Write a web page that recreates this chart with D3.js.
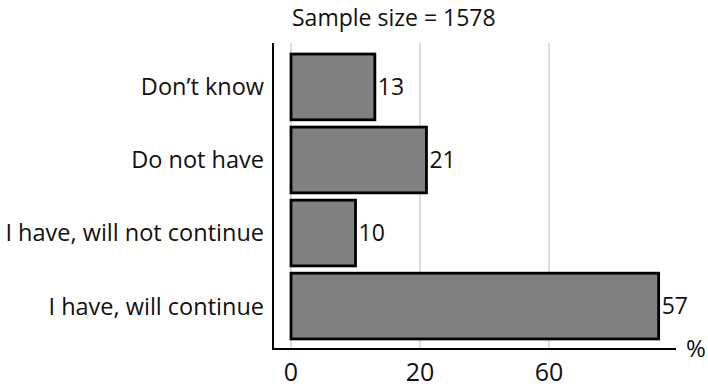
<!DOCTYPE html>
<html><head><meta charset="utf-8">
<script src="https://cdn.jsdelivr.net/npm/d3@7"></script>
<style>body{margin:0;background:#fff}text{font-family:"Open Sans","Noto Sans",sans-serif;fill:#111}</style>
</head><body>
<script>
const categories = ["Don\u2019t know","Do not have","I have, will not continue","I have, will continue"];
const values = [13,21,10,57];
const tickValues = [0,20,40];
const tickLabels = ["0","20","60"];
const title = "Sample size = 1578";

const W=708,H=388;
const svg=d3.select("body").append("svg").attr("width",W).attr("height",H);
const x=d3.scaleLinear().domain([0,60]).range([291,678]);
const y=d3.scaleBand().domain(categories).range([50.4,342.6]).paddingInner(0.1).paddingOuter(0.05);

svg.append("g").selectAll("line").data(tickValues).join("line")
  .attr("x1",d=>x(d)).attr("x2",d=>x(d)).attr("y1",43).attr("y2",349)
  .attr("stroke","#bbb").attr("stroke-width",1);

svg.append("g").selectAll("rect").data(categories).join("rect")
  .attr("x",x(0)).attr("y",d=>y(d)).attr("width",(d,i)=>x(values[i])-x(0)).attr("height",y.bandwidth())
  .attr("fill","#808083").attr("stroke","#000").attr("stroke-width",2.8);

svg.append("g").selectAll("text").data(categories).join("text")
  .attr("x",(d,i)=>x(values[i])+3).attr("y",d=>y(d)+y.bandwidth()/2).attr("dy","0.36em")
  .attr("font-size",23).text((d,i)=>values[i]);

svg.append("g").selectAll("text").data(categories).join("text")
  .attr("x",264).attr("y",d=>y(d)+y.bandwidth()/2).attr("dy","0.36em").attr("text-anchor","end")
  .attr("font-size",23.5).text(d=>d);

svg.append("line").attr("x1",273).attr("x2",273).attr("y1",43).attr("y2",350).attr("stroke","#000").attr("stroke-width",2);
svg.append("line").attr("x1",272).attr("x2",676).attr("y1",349).attr("y2",349).attr("stroke","#000").attr("stroke-width",2);

svg.append("g").selectAll("text").data(tickValues).join("text")
  .attr("x",d=>x(d)).attr("y",381).attr("text-anchor","middle").attr("font-size",25)
  .text((d,i)=>tickLabels[i]);

svg.append("text").attr("x",686).attr("y",357).attr("font-size",24).text("%");
svg.append("text").attr("x",292).attr("y",26).attr("font-size",23).text(title);
</script>
</body></html>
